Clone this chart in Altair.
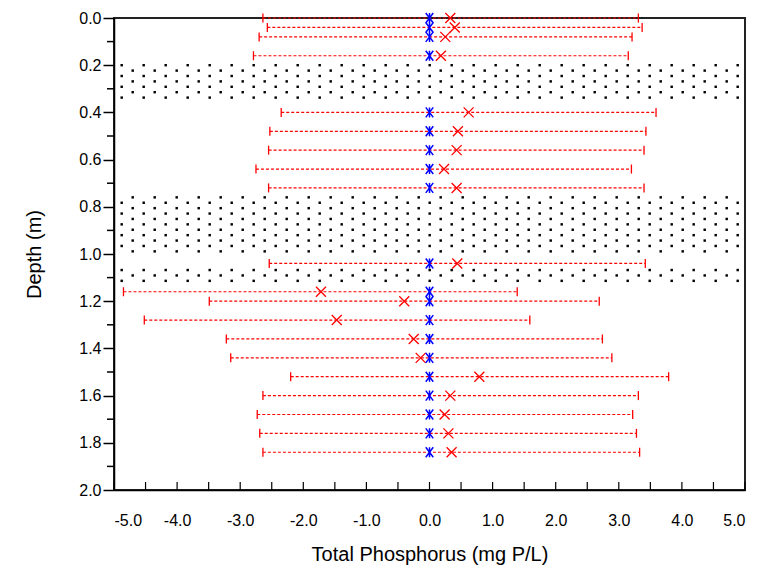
import altair as alt
import numpy as np
import pandas as pd

# ---- data ----
depths = [0.00, 0.04, 0.08, 0.16, 0.40, 0.48, 0.56, 0.64, 0.72, 1.04,
          1.16, 1.20, 1.28, 1.36, 1.44, 1.52, 1.60, 1.68, 1.76, 1.84]
observed = [0.0] * 20  # blue markers
predicted = [0.33, 0.40, 0.25, 0.18, 0.62, 0.45, 0.43, 0.23, 0.43, 0.44,
             -1.72, -0.40, -1.47, -0.25, -0.14, 0.79, 0.33, 0.24, 0.30, 0.35]
lower = [-2.64, -2.57, -2.70, -2.79, -2.35, -2.53, -2.55, -2.75, -2.55, -2.54,
         -4.85, -3.49, -4.52, -3.22, -3.15, -2.20, -2.64, -2.73, -2.69, -2.64]
upper = [3.31, 3.37, 3.21, 3.15, 3.59, 3.43, 3.40, 3.20, 3.40, 3.42,
         1.39, 2.69, 1.59, 2.74, 2.89, 3.79, 3.31, 3.22, 3.28, 3.33]

# stippled (dotted) depth bands
band_top = [0.20, 0.76, 1.068]
band_bottom = [0.36, 1.00, 1.115]
band_phase = [0, 1, 0]

x_ticks_major = [-5.0, -4.0, -3.0, -2.0, -1.0, 0.0, 1.0, 2.0, 3.0, 4.0, 5.0]
y_ticks_major = [0.0, 0.2, 0.4, 0.6, 0.8, 1.0, 1.2, 1.4, 1.6, 1.8, 2.0]

# ---- derived tables ----
W, H = 631, 472
df = pd.DataFrame({"depth": depths, "obs": observed, "pred": predicted,
                   "lo": lower, "hi": upper})
caps = pd.DataFrame({"depth": depths + depths, "cx": lower + upper})

# dot texture for the bands (a fill pattern, generated on a regular grid)
dx_step = 22 / W * 10.0
dy_step = 5.4 / H * 2.0
dots = []
for t, b, ph in zip(band_top, band_bottom, band_phase):
    k = 0
    d = t
    while d <= b + 1e-9:
        start = -5.0 + (7.7 if (k + ph) % 2 == 0 else 18.7) / W * 10.0
        xs = np.arange(start, 4.95, dx_step)
        for xv in xs:
            dots.append({"dx": xv, "dy": d})
        k += 1
        d = t + k * dy_step
dots = pd.DataFrame(dots)

xt = pd.DataFrame({"xt": np.arange(-5.0, 5.01, 0.5)})
yt_minor = pd.DataFrame({"yt": np.arange(0.1, 2.0, 0.2)})

xs = alt.Scale(domain=[-5, 5], nice=False, zero=False)
ys = alt.Scale(domain=[0, 2], nice=False, zero=False, reverse=True)

xax = alt.Axis(values=x_ticks_major, ticks=False, labelPadding=22,
               labelExpr="replace(format(datum.value, '.1f'), '\u2212', '-')",
               labelFont="Liberation Sans Narrow, Arial Narrow, Liberation Sans",
               labelFontSize=16, labelColor="black", domainColor="black",
               domainWidth=1.5, grid=False, title="Total Phosphorus (mg P/L)",
               titleFont="Liberation Sans", titleFontSize=20, titleFontWeight="normal",
               titleColor="black", titlePadding=16)
yax = alt.Axis(values=y_ticks_major, ticks=True, tickSize=11, tickColor="black",
               tickWidth=1.5, labelPadding=2,
               labelExpr="format(datum.value, '.1f')",
               labelFont="Liberation Sans", labelFontSize=16, labelColor="black",
               domainColor="black", domainWidth=1.5, grid=False, title="Depth (m)",
               titleFont="Liberation Sans", titleFontSize=20, titleFontWeight="normal",
               titleColor="black", titlePadding=34)


def X(f):
    return alt.X(f, type="quantitative", scale=xs, axis=xax)


def Y(f):
    return alt.Y(f, type="quantitative", scale=ys, axis=yax)


dot_layer = alt.Chart(dots).mark_square(size=6, color="black", opacity=1).encode(
    x=X("dx"), y=Y("dy"))

bars = alt.Chart(df).mark_rule(color="#ff0000", strokeDash=[3, 2], strokeWidth=1.2).encode(
    x=X("lo"), x2="hi", y=Y("depth"))

cap_layer = alt.Chart(caps).mark_point(shape="M0,-1L0,1", size=81, color="#ff0000",
                                       filled=False, opacity=1, strokeWidth=1.3).encode(
    x=X("cx"), y=Y("depth"))

red_x = alt.Chart(df).mark_point(shape="M-1,-1L1,1M1,-1L-1,1", size=100, color="#ff0000",
                                 filled=False, opacity=1, strokeWidth=1.3).encode(
    x=X("pred"), y=Y("depth"))

blue = alt.Chart(df).mark_point(shape="M-0.75,-1L0.75,1M0.75,-1L-0.75,1M0,-1L0,1", size=100,
                                color="#0000ff", filled=False, opacity=1, strokeWidth=1.5).encode(
    x=X("obs"), y=Y("depth"))

xtick_layer = alt.Chart(xt).mark_rule(color="black", strokeWidth=1.2).encode(
    x=X("xt"), y=alt.value(H), y2=alt.value(H - 8))

ytick_layer = alt.Chart(yt_minor).mark_rule(color="black", strokeWidth=1.5).encode(
    y=Y("yt"), x=alt.value(0), x2=alt.value(-7))

chart = alt.layer(dot_layer, bars, cap_layer, red_x, blue, xtick_layer, ytick_layer).properties(
    width=W, height=H,
    autosize=alt.AutoSizeParams(type="none"),
    padding={"left": 106, "top": 10, "right": 10, "bottom": 80},
).configure_view(stroke="#222", strokeWidth=2)

chart.save("out.html", embed_options={"renderer": "svg", "actions": False})
